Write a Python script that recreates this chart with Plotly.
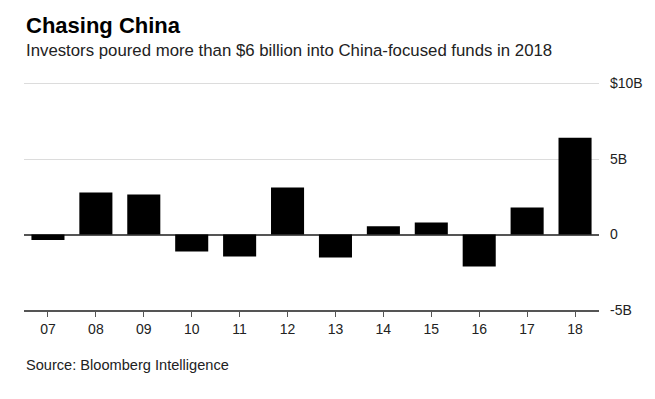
import plotly.graph_objects as go

years = ["07", "08", "09", "10", "11", "12", "13", "14", "15", "16", "17", "18"]
flows = [-0.37, 2.78, 2.65, -1.13, -1.46, 3.11, -1.52, 0.55, 0.79, -2.12, 1.79, 6.4]
tick_vals = [-5, 0, 5, 10]
tick_text = ["-5B", "0", "5B", "$10B"]

title = "Chasing China"
subtitle = "Investors poured more than $6 billion into China-focused funds in 2018"
source = "Source: Bloomberg Intelligence"

fig = go.Figure(go.Bar(x=years, y=flows, marker=dict(color="black", line=dict(width=0))))

OFF = 8  # page body margin
W, H = 655 - OFF, 399 - OFF
L, R, T, B = 24 - OFF, 56, 74, 89
ph = H - T - B

def py(p):
    return (H - B - (p - OFF)) / ph

fig.update_layout(
    width=W, height=H,
    margin=dict(l=L, r=R, t=T, b=B, autoexpand=False),
    plot_bgcolor="white", paper_bgcolor="white",
    bargap=0.31,
    showlegend=False,
    font=dict(family="Liberation Sans, Arial, sans-serif", color="#222"),
    xaxis=dict(
        type="category", showgrid=False, showline=True, linecolor="#555", linewidth=1.5,
        ticks="outside", ticklen=5, tickcolor="#555", tickwidth=1,
        tickfont=dict(size=14, color="#222"), zeroline=False, automargin=False,
    ),
    yaxis=dict(
        side="right", range=[-5, 10.1], tickvals=tick_vals, ticktext=tick_text,
        showgrid=True, gridcolor="#dcdcdc", gridwidth=1,
        zeroline=True, zerolinecolor="#555", zerolinewidth=1.5,
        tickfont=dict(size=14, color="#222"), ticks="", ticklabelstandoff=10,
        showline=False, automargin=False,
    ),
    annotations=[
        dict(text="<b>" + title + "</b>", x=0, y=py(25), xref="paper", yref="paper",
             xanchor="left", yanchor="middle", showarrow=False,
             font=dict(size=22, color="#000", family="Liberation Sans, Arial, sans-serif")),
        dict(text=subtitle, x=0, y=py(50), xref="paper", yref="paper",
             xanchor="left", yanchor="middle", showarrow=False,
             font=dict(size=16.8, color="#222")),
        dict(text=source, x=0, y=py(365), xref="paper", yref="paper",
             xanchor="left", yanchor="middle", showarrow=False,
             font=dict(size=14.6, color="#222")),
    ],
)

fig.write_html("out.html")
